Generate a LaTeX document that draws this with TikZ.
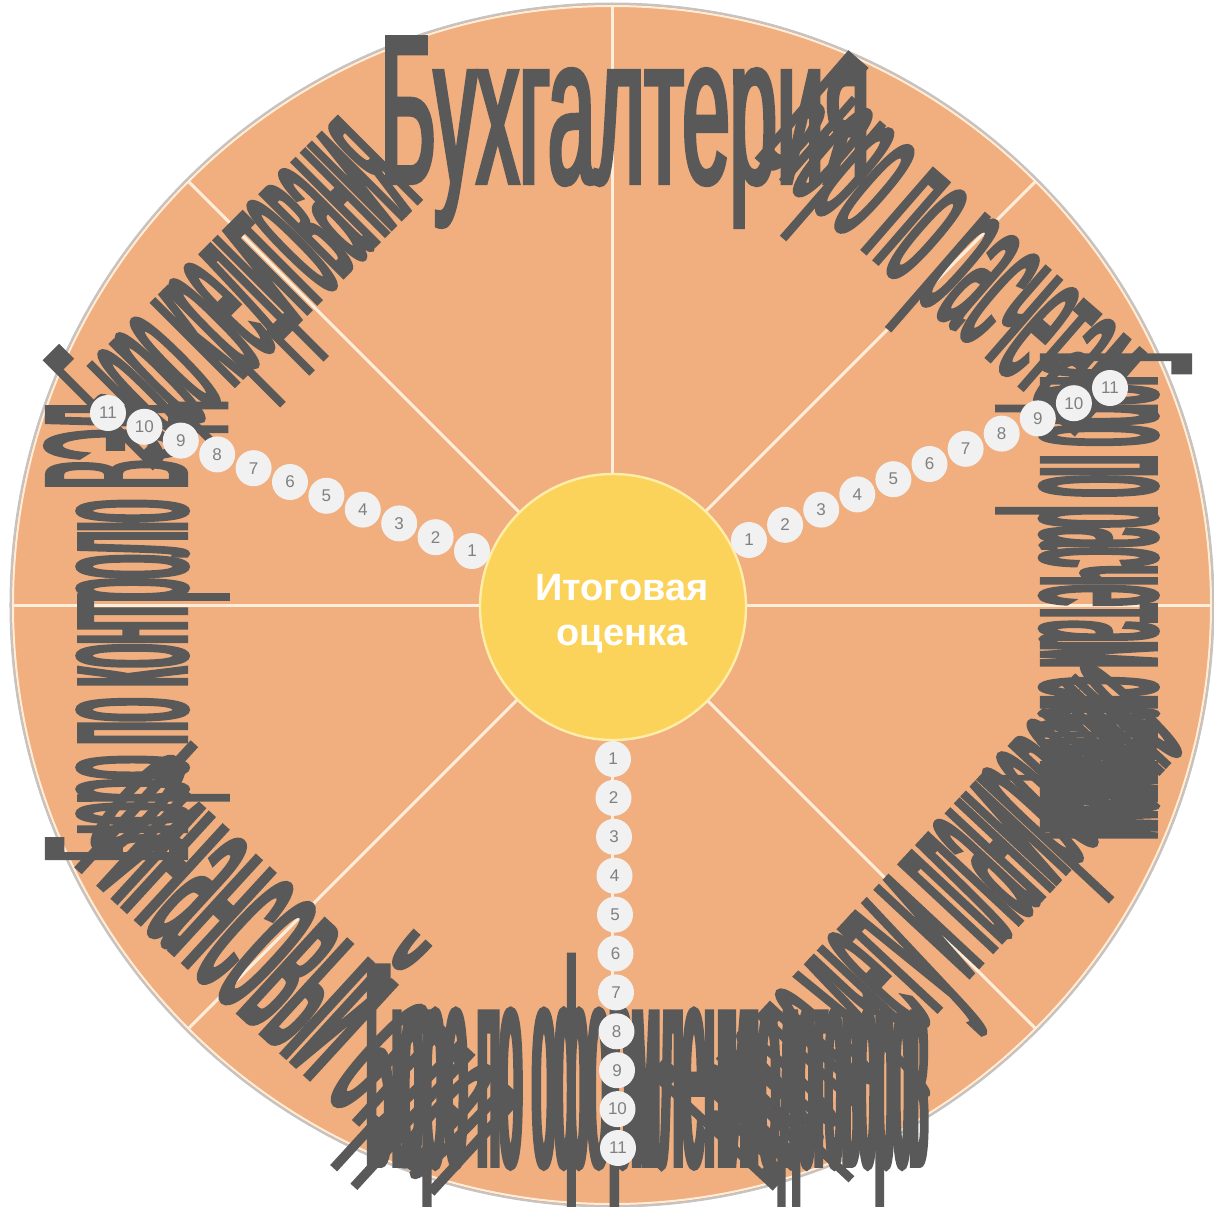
\documentclass[tikz,border=0pt]{standalone}
\usepackage{fontspec}
\setmainfont{Liberation Sans}
\newfontfamily\warpBuh[FakeStretch=0.40,FakeBold=2]{Liberation Sans}
\newfontfamily\warpRasch[FakeStretch=0.249,FakeBold=2]{Liberation Sans}
\newfontfamily\warpPost[FakeStretch=0.172,FakeBold=2]{Liberation Sans}
\newfontfamily\warpPostTail[FakeStretch=0.097,FakeBold=2]{Liberation Sans}
\newfontfamily\warpUchet[FakeStretch=0.173,FakeBold=2]{Liberation Sans}
\newfontfamily\warpFin[FakeStretch=0.24,FakeBold=2]{Liberation Sans}
\newfontfamily\warpDog[FakeStretch=0.138,FakeBold=2]{Liberation Sans}
\newfontfamily\warpDogTail[FakeStretch=0.107,FakeBold=2]{Liberation Sans}
\newfontfamily\warpVed[FakeStretch=0.208,FakeBold=2]{Liberation Sans}
\newfontfamily\warpKred[FakeStretch=0.19,FakeBold=2]{Liberation Sans}
\usepackage{tikz}
\definecolor{peach}{RGB}{241,174,126}
\definecolor{cream}{RGB}{253,238,220}
\definecolor{rimgray}{RGB}{196,196,196}
\definecolor{gold}{RGB}{252,211,90}
\definecolor{goldrim}{RGB}{255,238,170}
\definecolor{ink}{RGB}{89,89,89}
\definecolor{beadgray}{RGB}{241,241,241}
\definecolor{beadink}{RGB}{128,128,128}

\begin{document}
\begin{tikzpicture}[x=0.5pt, y=0.5pt,
  warp/.style={text=ink, inner sep=0pt, anchor=base west},
  bead/.style={circle, fill=beadgray, text=beadink, minimum size=18pt, inner sep=0pt,
    font=\fontsize{8.5}{9}\selectfont}]
  \useasboundingbox (-612,-601) rectangle (602,605);
  % wheel and sectors
  \fill [peach] (0,0) circle (602);
  \foreach \a in {0,45,...,315}
    \draw [cream, line width=1.5pt] (0,0) -- (\a:599);
  \draw [cream, line width=1pt] (0,0) circle (599);
  \draw [rimgray, line width=1pt] (0,0) circle (601.5);
  \node [circle, fill=gold, draw=goldrim, line width=1.2pt, minimum size=133pt] (score) at (1,-2) {};
  \node [text=white, align=center, font=\bfseries\fontsize{19}{22.5}\selectfont] (scoretext) at (10,-9) {Итоговая\\оценка};
  % warped labels
  \node [warp, rotate=0] (buh) at (-232,422) {\warpBuh\fontsize{106}{106}\selectfont Бухгалтерия};
  \node [warp, rotate=-41] (rasch) at (142,450) {\warpRasch\fontsize{101}{101}\selectfont Бюро по расчетам};
  \node [warp, rotate=-90] (post) at (430,253) {\warpPost\fontsize{107.5}{107.5}\selectfont Бюро по расчетам с };
  \node [warp, rotate=-90] (posttail) at (post.base east) {\warpPostTail\fontsize{107.5}{107.5}\selectfont поставщиками};
  \node [warp, rotate=47] (uchet) at (158,-585) {\warpUchet\fontsize{120}{120}\selectfont Бюро по учету и планированию};
  \node [warp, rotate=-42.5] (fin) at (-548,-248) {\warpFin\fontsize{120}{120}\selectfont Финансовый отдел};
  \node [warp, rotate=0] (dog) at (-246,-560) {\warpDog\fontsize{144.5}{144.5}\selectfont Бюро по оформлению };
  \node [warp, rotate=0] (dogtail) at (dog.base east) {\warpDogTail\fontsize{144.5}{144.5}\selectfont договоров};
  \node [warp, rotate=90] (ved) at (-426,-257) {\warpVed\fontsize{101}{101}\selectfont Бюро по контролю ВЭД};
  \node [warp, rotate=45] (kred) at (-462,135) {\warpKred\fontsize{110}{110}\selectfont Бюро кредитования};
  % score beads
  \foreach \i in {1,...,11} {
    \node [bead] (ul\i) at ({-140-36.4*(\i-1)}, {54+13.8*(\i-1)}) {\i};
    \node [bead] (ur\i) at ({137+36.1*(\i-1)}, {65+15.2*(\i-1)}) {\i};
    \node [bead] (dn\i) at ({1+0.5*(\i-1)}, {-154-38.9*(\i-1)}) {\i};
  }
\end{tikzpicture}
\end{document}
